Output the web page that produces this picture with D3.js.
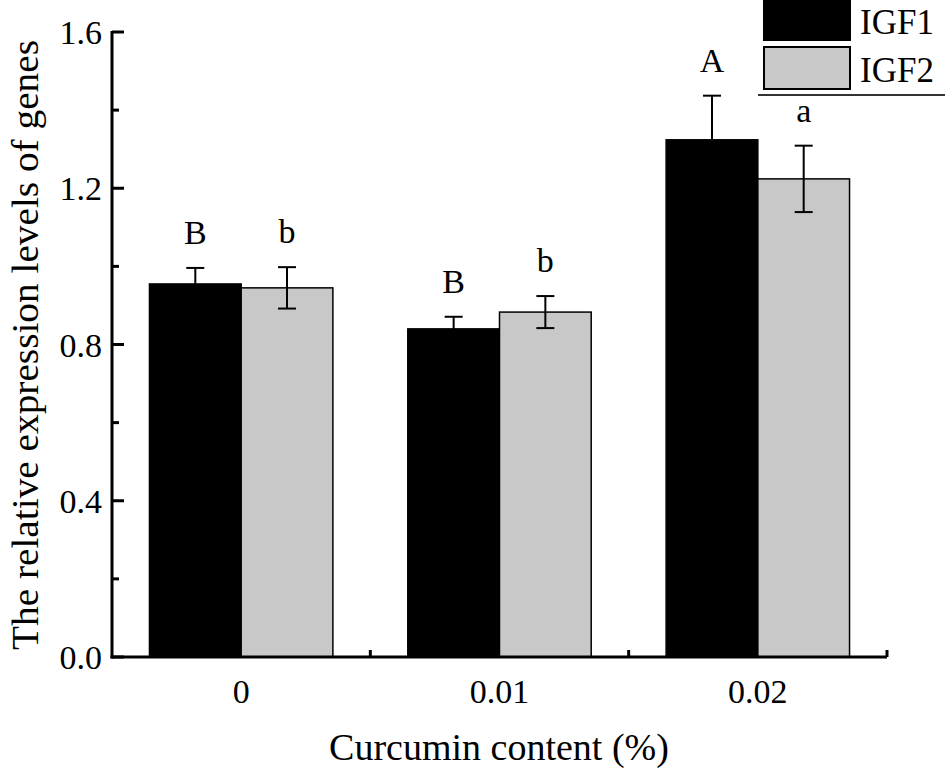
<!DOCTYPE html>
<html>
<head>
<meta charset="utf-8">
<script src="https://cdn.jsdelivr.net/npm/d3@7"></script>
<style>
  body { margin: 0; background: #fff; }
  text { font-family: "Liberation Serif", "Times New Roman", serif; fill: #000; }
</style>
</head>
<body>
<svg id="chart" width="945" height="774"></svg>
<script>
var categories = ["0", "0.01", "0.02"],
    series = ["IGF1", "IGF2"],
    colors = ["#000000", "#c8c8c8"],
    igf1 = [0.955, 0.84, 1.324],
    igf1Err = [0.041, 0.031, 0.113],
    igf2 = [0.945, 0.883, 1.224],
    igf2Err = [0.053, 0.041, 0.085],
    letters1 = ["B", "B", "A"],
    letters2 = ["b", "b", "a"],
    yTicks = [0, 0.4, 0.8, 1.2, 1.6],
    yMinor = [0.2, 0.6, 1.0, 1.4];

var svg = d3.select("#chart"),
    pl = 112, pr = 887, pt = 32, pb = 657;

var x = d3.scaleBand().domain(categories).range([pl, pr]).padding(0);
var xs = d3.scaleBand().domain(series).range([0, x.bandwidth() * 0.71]);
var y = d3.scaleLinear().domain([0, 1.6]).range([pb, pt]);

var rows = categories.map(function (c, i) {
    return [
        { cat: c, s: series[0], v: igf1[i], e: igf1Err[i], lab: letters1[i], col: colors[0] },
        { cat: c, s: series[1], v: igf2[i], e: igf2Err[i], lab: letters2[i], col: colors[1] }
    ];
});
var flat = [].concat.apply([], rows);
var off = (x.bandwidth() - xs.range()[1]) / 2;

function bx(d) { return x(d.cat) + off + xs(d.s); }
function cx(d) { return bx(d) + xs.bandwidth() / 2; }

// bars
svg.selectAll("rect.bar").data(flat).enter().append("rect")
    .attr("class", "bar")
    .attr("x", bx)
    .attr("y", function (d) { return y(d.v); })
    .attr("width", xs.bandwidth())
    .attr("height", function (d) { return pb - y(d.v); })
    .attr("fill", function (d) { return d.col; })
    .attr("stroke", "#000")
    .attr("stroke-width", 1.5);

// error bars
var eb = svg.selectAll("g.err").data(flat).enter().append("g")
    .attr("class", "err")
    .attr("stroke", "#000")
    .attr("stroke-width", 2);
eb.append("line")
    .attr("x1", cx).attr("x2", cx)
    .attr("y1", function (d) { return y(d.v + d.e); })
    .attr("y2", function (d) { return y(d.v - d.e); });
[1, -1].forEach(function (sgn) {
    eb.append("line")
        .attr("x1", function (d) { return cx(d) - 9; })
        .attr("x2", function (d) { return cx(d) + 9; })
        .attr("y1", function (d) { return y(d.v + sgn * d.e); })
        .attr("y2", function (d) { return y(d.v + sgn * d.e); });
});

// significance letters
svg.selectAll("text.lab").data(flat).enter().append("text")
    .attr("class", "lab")
    .attr("x", cx)
    .attr("y", function (d) { return y(d.v + d.e) - 24; })
    .attr("text-anchor", "middle")
    .attr("font-size", 34)
    .text(function (d) { return d.lab; });

// y axis
var yAxis = svg.append("g").attr("transform", "translate(" + pl + ",0)");
yAxis.append("line").attr("x1", 0).attr("x2", 0).attr("y1", pt - 1).attr("y2", pb + 1.5)
    .attr("stroke", "#000").attr("stroke-width", 3);
yAxis.selectAll("line.maj").data(yTicks).enter().append("line")
    .attr("x1", 0).attr("x2", 12)
    .attr("y1", function (d) { return y(d); }).attr("y2", function (d) { return y(d); })
    .attr("stroke", "#000").attr("stroke-width", 3);
yAxis.selectAll("line.min").data(yMinor).enter().append("line")
    .attr("x1", 0).attr("x2", 7)
    .attr("y1", function (d) { return y(d); }).attr("y2", function (d) { return y(d); })
    .attr("stroke", "#000").attr("stroke-width", 3);
yAxis.selectAll("text").data(yTicks).enter().append("text")
    .attr("x", -10).attr("y", function (d) { return y(d) + 12; })
    .attr("text-anchor", "end").attr("font-size", 34)
    .text(function (d) { return d.toFixed(1); });

// x axis
var xAxis = svg.append("g");
xAxis.append("line").attr("x1", pl - 1.5).attr("x2", pr).attr("y1", pb).attr("y2", pb)
    .attr("stroke", "#000").attr("stroke-width", 3);
var bounds = categories.slice(1).map(function (c) { return x(c); }).concat([pr]);
xAxis.selectAll("line.tk").data(bounds).enter().append("line")
    .attr("x1", function (d) { return d; }).attr("x2", function (d) { return d; })
    .attr("y1", pb).attr("y2", pb - 7)
    .attr("stroke", "#000").attr("stroke-width", 3);
xAxis.selectAll("text").data(categories).enter().append("text")
    .attr("x", function (d) { return x(d) + x.bandwidth() / 2; })
    .attr("y", pb + 46)
    .attr("text-anchor", "middle").attr("font-size", 34)
    .text(function (d) { return d; });

// axis titles
svg.append("text").attr("x", 499).attr("y", 760)
    .attr("text-anchor", "middle").attr("font-size", 38)
    .text("Curcumin content (%)");
svg.append("text")
    .attr("transform", "translate(38,345) rotate(-90)")
    .attr("text-anchor", "middle").attr("font-size", 38)
    .attr("textLength", 610).attr("lengthAdjust", "spacingAndGlyphs")
    .text("The relative expression levels of genes");

// legend
var lg = svg.append("g");
lg.selectAll("rect").data(series).enter().append("rect")
    .attr("x", 764).attr("y", function (d, i) { return -2 + i * 49; })
    .attr("width", 86).attr("height", 42)
    .attr("fill", function (d, i) { return colors[i]; })
    .attr("stroke", "#000").attr("stroke-width", 2);
lg.selectAll("text").data(series).enter().append("text")
    .attr("x", 860).attr("y", function (d, i) { return 34 + i * 48; })
    .attr("font-size", 35)
    .text(function (d) { return d; });
lg.append("line").attr("x1", 758).attr("x2", 945).attr("y1", 95).attr("y2", 95)
    .attr("stroke", "#333").attr("stroke-width", 2);
</script>
</body>
</html>
